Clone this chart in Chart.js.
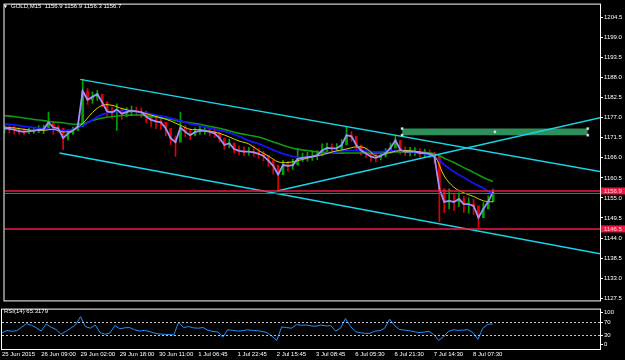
<!DOCTYPE html>
<html>
<head>
<meta charset="utf-8">
<script src="https://cdn.jsdelivr.net/npm/chart.js@4.4.0/dist/chart.umd.min.js"></script>
<style>
  html, body { margin: 0; padding: 0; background: #000; }
  #wrap { position: relative; width: 625px; height: 360px; background: #000; overflow: hidden; }
  #main { position: absolute; left: 0; top: 0; }
  #rsi { position: absolute; left: 0; top: 305px; }
  .lbl { position: absolute; color: #fff; font: 6px 'Liberation Sans', Arial, sans-serif; white-space: pre; line-height: 7px; }
</style>
</head>
<body>
<div id="wrap">
  <canvas id="main" width="625" height="305"></canvas>
  <canvas id="rsi" width="625" height="55"></canvas>
  <div class="lbl" style="left:3px;top:3px;font-size:5px">▼</div>
  <div class="lbl" style="left:11px;top:3px">GOLD,M15  1156.9 1156.9 1156.3 1156.7</div>
  <div class="lbl" style="left:4px;top:308px">RSI(14) 65.3179</div>
</div>
<script>
// one sample every 8 M15 bars
const STEP = 8
const closes = [
  1174.1, 1173.9, 1173.7, 1173.3, 1173.1, 1173.3, 1173.4, 1173.7, 1173.8, 1175.7,
  1174.3, 1174.1, 1171.4, 1172.7, 1173.5, 1174.6, 1184.3, 1181.9, 1182.7, 1183.5,
  1181.2, 1178.7, 1178.5, 1179.2, 1178.1, 1178.5, 1178.9, 1178.7, 1178.5, 1177.3,
  1176.4, 1176.0, 1175.7, 1174.1, 1171.4, 1170.3, 1174.3, 1173.1, 1172.2, 1173.1,
  1173.4, 1173.4, 1173.1, 1172.7, 1171.4, 1169.5, 1170.0, 1168.4, 1167.9, 1167.7,
  1167.7, 1167.5, 1167.1, 1166.5, 1165.2, 1163.8, 1161.4, 1164.0, 1163.8, 1164.0,
  1165.7, 1166.0, 1166.2, 1166.4, 1166.7, 1168.0, 1168.7, 1168.6, 1168.6, 1169.5,
  1172.2, 1171.9, 1169.5, 1168.0, 1167.2, 1166.3, 1166.0, 1166.5, 1167.3, 1168.7,
  1170.8, 1168.2, 1167.7, 1167.7, 1167.7, 1167.3, 1167.3, 1167.1, 1166.3, 1157.5,
  1153.9, 1154.2, 1153.9, 1154.7, 1153.3, 1153.3, 1152.8, 1149.6, 1152.0, 1154.0,
  1156.7
]
const highs = [
  1175.0, 1174.8, 1174.6, 1174.2, 1174.0, 1174.1, 1174.3, 1174.8, 1175.0, 1178.5,
  1175.9, 1175.0, 1173.5, 1173.6, 1174.4, 1175.6, 1187.5, 1185.0, 1184.1, 1184.5,
  1183.4, 1181.4, 1180.0, 1180.8, 1179.6, 1179.8, 1180.2, 1179.9, 1179.7, 1178.8,
  1177.9, 1177.4, 1177.0, 1175.5, 1173.6, 1172.0, 1178.5, 1174.8, 1173.9, 1174.2,
  1174.6, 1174.7, 1174.5, 1174.2, 1173.0, 1171.2, 1171.1, 1170.0, 1169.2, 1169.0,
  1168.9, 1169.3, 1168.5, 1167.8, 1166.6, 1165.4, 1164.0, 1165.3, 1165.0, 1165.6,
  1168.6, 1167.3, 1167.5, 1167.6, 1168.0, 1169.8, 1170.0, 1169.8, 1169.9, 1171.0,
  1174.4, 1173.2, 1171.0, 1169.2, 1168.5, 1167.6, 1167.4, 1167.8, 1168.5, 1170.0,
  1172.2, 1169.6, 1169.0, 1168.9, 1168.8, 1168.5, 1168.4, 1168.2, 1167.5, 1163.5,
  1157.0, 1157.5, 1156.2, 1156.4, 1155.4, 1155.0, 1154.6, 1152.5, 1153.7, 1155.6,
  1157.4
]
const lows = [
  1172.8, 1172.9, 1172.5, 1172.4, 1172.3, 1172.6, 1172.7, 1172.9, 1172.6, 1174.0,
  1172.5, 1173.0, 1168.2, 1170.8, 1172.4, 1173.5, 1174.5, 1180.6, 1180.9, 1181.7,
  1180.0, 1177.4, 1176.8, 1173.5, 1176.5, 1177.3, 1177.7, 1177.5, 1177.0, 1175.6,
  1174.6, 1174.0, 1173.8, 1172.0, 1169.5, 1166.4, 1171.5, 1171.8, 1171.0, 1172.0,
  1172.4, 1172.5, 1172.0, 1171.5, 1170.2, 1168.3, 1168.7, 1167.3, 1166.8, 1166.6,
  1166.7, 1166.4, 1165.9, 1165.2, 1163.6, 1161.5, 1156.9, 1162.4, 1162.3, 1162.8,
  1164.6, 1165.0, 1165.1, 1165.3, 1165.5, 1166.5, 1167.6, 1167.3, 1167.5, 1168.2,
  1170.0, 1170.5, 1168.3, 1166.8, 1166.0, 1165.0, 1164.9, 1165.4, 1166.2, 1167.6,
  1168.8, 1167.0, 1166.6, 1166.5, 1166.6, 1166.2, 1166.1, 1166.0, 1164.5, 1148.5,
  1151.0, 1152.0, 1151.5, 1152.6, 1151.0, 1150.8, 1150.5, 1147.1, 1150.2, 1152.6,
  1154.8
]

// moving averages, one sample every 16 bars
const MA_STEP = 16
const maGreen = [
  1177.6, 1177.3, 1176.9, 1176.5, 1176.2, 1175.8, 1175.6, 1175.2, 1175.3, 1176.2,
  1176.9, 1177.3, 1177.6, 1177.7, 1177.7, 1177.3, 1176.9, 1176.5, 1176.0, 1175.6,
  1175.2, 1174.6, 1174.1, 1173.4, 1172.7, 1172.2, 1171.7, 1170.8, 1169.9, 1169.0,
  1168.3, 1168.0, 1167.6, 1167.5, 1167.3, 1167.3, 1167.3, 1167.3, 1167.3, 1167.5,
  1167.6, 1167.6, 1167.6, 1167.5, 1167.1, 1165.9, 1164.7, 1163.3, 1162.0, 1160.6,
  1159.5
]
const maBlue = [
  1175.3, 1175.0, 1174.6, 1174.3, 1174.0, 1173.7, 1173.5, 1173.8, 1174.8, 1176.4,
  1177.9, 1178.5, 1178.8, 1178.8, 1178.5, 1178.0, 1177.4, 1176.9, 1176.2, 1175.3,
  1174.8, 1174.1, 1173.5, 1172.9, 1171.9, 1170.7, 1169.8, 1168.7, 1167.6, 1166.7,
  1166.1, 1166.1, 1166.5, 1167.2, 1167.6, 1168.0, 1168.0, 1167.9, 1167.6, 1167.8,
  1168.0, 1167.9, 1167.5, 1167.1, 1166.3, 1164.1, 1162.2, 1160.6, 1159.0, 1157.7,
  1155.8
]
const maYellow = [
  1174.4, 1174.2, 1173.8, 1173.5, 1173.5, 1173.8, 1173.1, 1173.5, 1175.4, 1178.4,
  1180.4, 1180.4, 1179.5, 1178.9, 1178.5, 1177.7, 1177.0, 1176.1, 1174.9, 1173.8,
  1173.7, 1173.3, 1172.7, 1171.7, 1170.6, 1169.8, 1168.0, 1166.5, 1164.9, 1164.7,
  1165.2, 1165.9, 1166.5, 1167.2, 1167.9, 1168.4, 1169.0, 1168.6, 1166.5, 1167.1,
  1167.8, 1168.0, 1167.8, 1167.3, 1166.5, 1161.0, 1157.9, 1156.4, 1155.4, 1154.2,
  1153.9
]

const rsiValues = [
  37.6, 44.6, 42.6, 44, 55, 66, 61, 53, 43, 65,
  55, 48, 33, 42, 52, 62, 88, 57, 52, 62,
  38, 33, 37, 60, 50, 53, 54, 47, 43, 45,
  42, 37, 34, 33, 32, 31, 70, 54, 57, 53,
  52, 54, 45, 42, 40, 24, 47, 45, 43, 44,
  47, 45, 44, 42, 38, 27, 14, 56, 54, 52,
  63, 61, 62, 59, 58, 62, 59, 60, 43, 52,
  82, 58, 41, 38, 36, 36, 43, 44, 52, 80,
  60, 48, 46, 44, 41, 38, 40, 42, 32, 14,
  25, 42, 47, 45, 46, 47, 38, 17, 52, 64,
  65.3
]

const priceTicks = [1204.5, 1199.0, 1193.5, 1188.0, 1182.5, 1177.0, 1171.5, 1166.0, 1160.5, 1155.0, 1149.5, 1144.0, 1138.5, 1133.0, 1127.5]
const rsiTicks = [100, 70, 30, 0]
const rsiLevels = [70, 30]
const timeTicks = [0, 64, 128, 192, 256, 320, 384, 448, 512, 576, 640, 704, 768]
const timeLabels = ['25 Jun 2015', '26 Jun 09:00', '29 Jun 02:00', '29 Jun 18:00', '30 Jun 11:00', '1 Jul 06:45',
  '1 Jul 22:45', '2 Jul 15:45', '3 Jul 08:45', '6 Jul 05:30', '6 Jul 21:30', '7 Jul 14:30', '8 Jul 07:30']

// horizontal lines and trend lines (bar, price)
const levelLines = [1156.9, 1146.5]
const bidLine = 1156.4
const upperChannel = [[124, 1187.5], [1000, 1161.5]]
const lowerChannel = [[90, 1167.3], [1000, 1138.9]]
const risingLine = [[446, 1156.9], [1000, 1177.9]]
const zoneBars = [651, 955]
const zonePrices = [1172.2, 1174.0]

const UP = '#00a400'
const DOWN = '#e00000'
const CYAN = '#18d6ea'
const LEVEL = '#ee1844'

Chart.defaults.font.family = "'Liberation Sans', Arial, sans-serif"
Chart.defaults.font.size = 6
Chart.defaults.color = '#fff'

const xy = (values, step) => values.map((v, i) => ({ x: i * step, y: v }))
const seg = (pts) => pts.map(p => ({ x: p[0], y: p[1] }))

// frame + level lines
const paneDeco = {
  id: 'paneDeco',
  afterDatasetsDraw(chart, args, opts) {
    const { ctx, chartArea: a } = chart
    const y = chart.scales.y
    ctx.save()
    ctx.beginPath()
    ctx.rect(a.left, a.top, a.right - a.left, a.bottom - a.top)
    ctx.clip()
    ;(opts.dotted || []).forEach(v => {
      const py = Math.round(y.getPixelForValue(v)) + 0.5
      ctx.strokeStyle = '#c8c8c8'
      ctx.lineWidth = 1
      ctx.setLineDash([2, 2])
      ctx.beginPath(); ctx.moveTo(a.left, py); ctx.lineTo(a.right, py); ctx.stroke()
    })
    ctx.setLineDash([])
    if (opts.bid) {
      const py = Math.round(y.getPixelForValue(opts.bid)) + 0.5
      ctx.strokeStyle = '#5a6a6a'
      ctx.lineWidth = 1
      ctx.beginPath(); ctx.moveTo(a.left, py); ctx.lineTo(a.right, py); ctx.stroke()
    }
    ;(opts.levels || []).forEach(v => {
      const py = y.getPixelForValue(v)
      ctx.strokeStyle = LEVEL
      ctx.lineWidth = 1.5
      ctx.beginPath(); ctx.moveTo(a.left, py); ctx.lineTo(a.right, py); ctx.stroke()
    })
    ctx.restore()
  },
  afterDraw(chart, args, opts) {
    const { ctx, chartArea: a } = chart
    const y = chart.scales.y
    ctx.save()
    ;(opts.levels || []).forEach(v => {
      const py = y.getPixelForValue(v)
      ctx.fillStyle = LEVEL
      ctx.fillRect(a.right + 1, py - 3.5, 24, 7)
      ctx.fillStyle = '#ffd4d4'
      ctx.font = "6px 'Liberation Sans', Arial, sans-serif"
      ctx.textBaseline = 'middle'
      ctx.fillText(v.toFixed(1), a.right + 4, py)
    })
    ctx.strokeStyle = '#fff'
    ctx.lineWidth = 1
    ctx.strokeRect(a.left - 0.5, a.top - 0.5, a.right - a.left + 1, a.bottom - a.top + 1)
    ctx.restore()
  }
}

const priceAxis = {
  position: 'right',
  min: 1126.9,
  max: 1208.0,
  afterFit: s => { s.width = 25 },
  afterBuildTicks: s => { s.ticks = priceTicks.map(v => ({ value: v })) },
  grid: { drawOnChartArea: false, drawTicks: true, tickLength: 3, color: '#fff', tickColor: '#fff' },
  border: { display: false },
  ticks: { padding: 1, callback: v => v.toFixed(1), font: { size: 6 } }
}

const lineSet = (data, color, width, order, extra) => Object.assign({
  type: 'line', data, borderColor: color, borderWidth: width, pointRadius: 0, fill: false, tension: 0, order
}, extra || {})

const candleColors = closes.map((c, i) => (i > 0 && c < closes[i - 1]) ? DOWN : UP)

new Chart(document.getElementById('main'), {
  type: 'line',
  data: {
    datasets: [
      lineSet(seg([[zoneBars[0], zonePrices[1]], [zoneBars[1], zonePrices[1]]]), 'transparent', 0, 20,
        { fill: '+1', backgroundColor: '#2f8f5a' }),
      lineSet(seg([[zoneBars[0], zonePrices[0]], [zoneBars[1], zonePrices[0]]]), 'transparent', 0, 20),
      {
        type: 'bar', order: 12, grouped: false, barThickness: 1, borderWidth: 0,
        data: closes.map((c, i) => ({ x: i * STEP, y: [lows[i], highs[i]] })),
        backgroundColor: candleColors
      },
      {
        type: 'bar', order: 11, grouped: false, barThickness: 2, borderWidth: 0,
        data: closes.map((c, i) => ({ x: i * STEP, y: [i > 0 ? closes[i - 1] : c, c] })),
        backgroundColor: candleColors
      },
      lineSet(xy(maGreen, MA_STEP), '#109a10', 1.6, 9, { tension: 0.35 }),
      lineSet(xy(maBlue, MA_STEP), '#1414f5', 1.8, 8, { tension: 0.35 }),
      lineSet(xy(maYellow, MA_STEP), '#d8d400', 1, 7, { tension: 0.35 }),
      lineSet(xy(closes, STEP), '#9e90ff', 1.8, 6),
      lineSet(seg(upperChannel), CYAN, 1.5, 3),
      lineSet(seg(lowerChannel), CYAN, 1.5, 3),
      lineSet(seg(risingLine), CYAN, 1.5, 3),
      lineSet(seg([[zoneBars[0], zonePrices[1]], [zoneBars[0], zonePrices[0]], [zoneBars[1], zonePrices[1]],
        [zoneBars[1], zonePrices[0]], [(zoneBars[0] + zoneBars[1]) / 2, (zonePrices[0] + zonePrices[1]) / 2]]),
        'transparent', 0, 1, { showLine: false, pointRadius: 1.5, pointStyle: 'rect',
          pointBackgroundColor: '#ffffff', pointBorderColor: '#9aa', pointBorderWidth: 0.5 })
    ]
  },
  options: {
    responsive: false,
    animation: false,
    events: [],
    layout: { padding: { left: 2, top: 2, right: 0, bottom: 1 } },
    plugins: {
      legend: { display: false },
      tooltip: { enabled: false },
      paneDeco: { levels: levelLines, bid: bidLine }
    },
    scales: {
      x: { type: 'linear', min: 0, max: 975, display: false, offset: false },
      y: priceAxis
    }
  },
  plugins: [paneDeco]
})

new Chart(document.getElementById('rsi'), {
  type: 'line',
  data: {
    datasets: [lineSet(xy(rsiValues, STEP), '#2090ff', 1, 1)]
  },
  options: {
    responsive: false,
    animation: false,
    events: [],
    layout: { padding: { left: 2, top: 2, right: 0, bottom: 0 } },
    plugins: {
      legend: { display: false },
      tooltip: { enabled: false },
      paneDeco: { dotted: rsiLevels }
    },
    scales: {
      x: {
        type: 'linear', min: 0, max: 975, offset: false,
        afterFit: s => { s.height = 11 },
        afterBuildTicks: s => { s.ticks = timeTicks.map(v => ({ value: v })) },
        grid: { display: false, drawTicks: false, tickLength: 0 },
        border: { display: false },
        ticks: {
          align: 'start', autoSkip: false, maxRotation: 0, minRotation: 0, padding: 2,
          callback: v => timeLabels[timeTicks.indexOf(v)]
        }
      },
      y: {
        position: 'right', min: -13, max: 110,
        afterFit: s => { s.width = 25 },
        afterBuildTicks: s => { s.ticks = rsiTicks.map(v => ({ value: v })) },
        grid: { drawOnChartArea: false, drawTicks: true, tickLength: 3, color: '#fff', tickColor: '#fff' },
        border: { display: false },
        ticks: { padding: 1 }
      }
    }
  },
  plugins: [paneDeco]
})
</script>
</body>
</html>
